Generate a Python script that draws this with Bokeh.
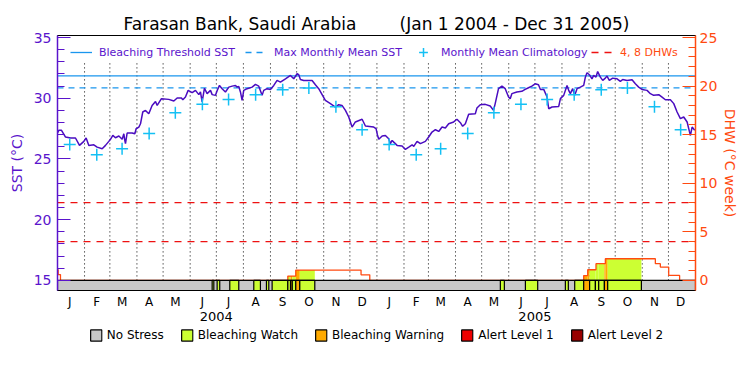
import pandas as pd
from bokeh.plotting import figure
from bokeh.layouts import column
from bokeh.models import Range1d, LinearAxis, FixedTicker, Legend, LegendItem, ColumnDataSource
from bokeh.embed import file_html
from bokeh.resources import INLINE

START = pd.Timestamp("2004-01-01")
END = pd.Timestamp("2006-01-01")

# ---------------- data ----------------
# SST time series (days since 2004-01-01, degC)
sst_day = [0, 1.5, 4.6, 9.2, 15, 20.6, 25.2, 30.2, 32.8, 35.9, 41.6, 45.4, 51.2, 55, 58.8, 60.7, 63.4, 66.4, 70.3, 74.1,
           76, 77.1, 77.9, 79.8, 85.5, 88.6, 90.1, 93.2, 95.1, 97.7, 100.8, 104.6, 108.4, 112.3, 114.2, 119.1, 127.5, 133.3,
           137.1, 142, 143.6, 146.6, 149.7, 154.3, 158.1, 161.9, 163.8, 165.7, 168.4, 171.4, 175.3, 177.2,
           181, 183, 185.6, 188.6, 192.4, 196.3, 200.1, 203.9, 205.8, 207.7, 209.6, 211.5, 213.4, 217.3, 223, 226.8,
           230.6, 234.4, 236.3, 240.1, 244, 247.8, 251.6, 255.4, 261.2, 266.9, 270.7, 274.5, 276.4, 278.3, 282.1, 291.7,
           295.5, 299.3, 306.9, 312.7, 318.4, 322.2, 326, 329.9, 333.7, 337.5, 341.3, 349, 352.8, 362.3,
           365, 366.5, 368.1, 372, 375.7, 379.5, 381.4, 383.4, 385.3, 389.1, 394.8, 398.6, 402.5, 406.3, 408.2, 412,
           415.8, 421.5, 425.3, 429.1, 433, 436.8, 440.6, 444.4, 448.2, 453.9, 457.7, 461.6, 464.2, 467.3, 471.1, 478.7,
           480.6, 484.4, 490.1, 495.8, 499.6, 501.5, 505.3, 509.2, 513, 516.8, 518.7, 520.6, 526.3, 532, 535.8, 539.7,
           543.5, 547.3, 551.1, 553.3,
           557.1, 560.9, 562.8, 566.6, 574.3, 576.2, 580, 583.8, 585.7, 587.6, 590.3, 592.6, 595.3, 599.1, 602.9, 604.8,
           606.7, 609.4, 612.4, 614.3, 617, 618.9, 622, 624.7, 627.7, 629.6, 632.3, 636.1, 641.1, 644.9, 647.6, 652.5,
           658.3, 662.1, 665.9, 669.7, 675.5, 679.3, 683.1, 688.9, 692.7, 696.5, 702.2, 706.1, 709.9, 713.7, 717.5,
           721.4, 724, 725.2, 727.1, 730.1]
sst_val = [27.14, 27.36, 27.36, 26.81, 26.73, 26.73, 26.12, 26.45, 26.73, 26.12, 26.17, 25.98, 25.85, 26.12, 26.45,
           26.62, 26.94, 26.75, 26.89, 26.62, 27.08, 26.53, 26.26, 27.14, 27.14, 27.08, 27.49, 27.63, 27.9, 28.87, 29.0,
           28.73, 29.41, 29.74, 29.41, 29.97, 29.91, 29.77, 30.02, 30.02, 29.88, 30.1, 30.65, 30.46, 30.65, 30.3, 30.52,
           29.7, 30.83, 30.38, 30.65, 30.3,
           30.24, 30.65, 31.06, 30.79, 30.52, 30.92, 31.0, 31.06, 30.92, 30.97, 30.52, 29.83, 30.65, 30.79, 30.92, 31.14,
           31.0, 30.24, 30.65, 30.79, 30.73, 31.06, 31.47, 31.33, 31.6, 31.88, 31.6, 32.02, 31.94, 31.55, 31.47, 31.47,
           31.11, 30.79, 29.83, 29.56, 29.28, 29.47, 29.41, 29.0, 28.46, 27.63, 28.05, 28.27, 27.72, 27.63,
           27.5, 27.0, 26.62, 26.89, 26.94, 26.67, 26.26, 26.53, 26.39, 26.12, 26.07, 25.79, 25.98, 26.17, 26.04, 26.45,
           26.26, 26.45, 26.81, 27.22, 27.41, 27.27, 27.63, 27.55, 27.9, 28.05, 28.27, 27.99, 27.69, 27.9, 28.68, 28.73,
           29.2, 29.47, 29.5, 29.36, 29.0, 29.56, 30.79, 31.0, 30.79, 30.1, 29.97, 30.38, 30.52, 30.57, 30.73, 30.87,
           31.0, 31.19, 31.11, 30.73,
           30.73, 30.1, 29.14, 29.28, 29.33, 29.97, 30.24, 31.06, 30.65, 30.38, 30.79, 30.24, 30.79, 30.92, 31.06, 31.74,
           32.1, 31.94, 31.6, 31.88, 31.74, 32.2, 31.74, 31.47, 31.66, 31.83, 31.47, 31.66, 31.6, 31.39, 31.55, 31.47,
           31.52, 31.19, 30.92, 30.73, 30.65, 30.38, 30.24, 30.3, 30.1, 29.88, 29.88, 29.56, 28.87, 28.32, 28.46, 28.05,
           27.27, 26.94, 27.63, 27.36]

# Monthly mean climatology (Jan..Dec), degC
clim_vals = [26.2, 25.35, 25.85, 27.1, 28.8, 29.5, 29.9, 30.3, 30.7, 30.85, 29.3, 27.4]
mmm = 30.85                 # max monthly mean
threshold = 31.85           # bleaching threshold
dhw_lines = [4, 8]

# Degree heating weeks, step function (days since 2004-01-01)
dhw_day = [0, 0.8, 3.4, 263.9, 273.0, 347.8, 357.8, 602.9, 607.5, 617.0, 627.7, 685.0, 690.7, 700.3, 712.8, 731]
dhw_val = [1.1, 0.6, 0.0, 0.45, 1.07, 0.58, 0.0, 0.5, 1.1, 1.72, 2.23, 1.72, 1.37, 0.51, 0.0, 0.0]

# Stress level periods (1 = Bleaching Watch, 2 = Bleaching Warning)
stress_start = [177.2, 182.9, 197.4, 224.9, 239.4, 245.9, 263.9, 267.0, 269.0, 273.0, 277.6,
                507.4, 536.1, 581.9, 592.6, 602.9, 609.7, 616.3, 620.1, 626.6, 630.4]
stress_end = [179.1, 185.9, 207.7, 232.5, 242.1, 263.9, 267.0, 269.0, 273.0, 277.6, 294.8,
              512.0, 550.2, 585.3, 602.9, 609.7, 616.3, 620.1, 626.6, 630.4, 669.0]
stress_level = [1, 1, 1, 1, 1, 1, 1, 2, 1, 2, 1,
                1, 1, 1, 1, 2, 1, 1, 1, 2, 1]

stress_names = ["No Stress", "Bleaching Watch", "Bleaching Warning", "Alert Level 1", "Alert Level 2"]
stress_colors = ["#c8c8c8", "#ccff33", "#ffaa00", "#ee0000", "#990000"]
month_letters = ["J", "F", "M", "A", "M", "J", "J", "A", "S", "O", "N", "D"]
year_labels = ["2004", "2005"]

# ---------------- derived ----------------
def dayof(ts):
    return (ts - START).days

total_days = dayof(END)
month_starts = [dayof(t) for t in pd.date_range(START, END, freq="MS")]
mid_months = [dayof(t) + 14 for t in pd.date_range(START, END, freq="MS")[:-1]]
clim_days = mid_months
clim_all = clim_vals * 2
year_mid = [dayof(pd.Timestamp(f"{y}-07-01")) for y in year_labels]

Y0, Y1 = 14.17, 35.17
D0, D1 = (Y0 - 15) * 1.25, (Y1 - 15) * 1.25
GRID_TOP = 33.0
NAN = float("nan")

PURPLE = "#5a14cc"
LINEC = "#4a0cc0"
ORANGE = "#ff4a10"
BLUE = "#1a96ee"
CYAN = "#14c0f4"
RED = "#ee1111"
FONT = "DejaVu Sans"
SP = "\u00a0"

main = figure(frame_width=638, frame_height=255, output_backend="svg", toolbar_location=None,
              x_range=Range1d(0, total_days), y_range=Range1d(Y0, Y1),
              min_border_left=57, min_border_right=55, min_border_top=35, min_border_bottom=0)
main.extra_y_ranges = {"dhw": Range1d(D0, D1)}
main.xgrid.visible = False
main.ygrid.visible = False
main.outline_line_color = "black"
main.background_fill_color = "white"

main.title.text = "Farasan Bank, Saudi Arabia" + SP * 8 + "(Jan 1 2004 - Dec 31 2005)"
main.title.align = "center"
main.title.text_font = FONT
main.title.text_font_size = "17px"
main.title.text_font_style = "normal"
main.title.text_color = "black"
main.title.standoff = 4

# month dotted lines
main.segment(x0=month_starts[1:-1], y0=15, x1=month_starts[1:-1], y1=GRID_TOP,
             line_color="black", line_dash="1 3", line_width=1)

# reference lines
thr_r = main.line([0, total_days], [threshold, threshold], line_color=BLUE, line_width=1.3)
mmm_r = main.line([0, total_days], [mmm, mmm], line_color=BLUE, line_width=1.3, line_dash="6 5")
dhw_r = main.multi_line(xs=[[0, total_days] for _ in dhw_lines], ys=[[d, d] for d in dhw_lines],
                        y_range_name="dhw", line_color=RED, line_width=1.3, line_dash="7 6")

# DHW fill by stress level
fl, fr, ft, fc = [], [], [], []
for s, e, lv in zip(stress_start, stress_end, stress_level):
    for i in range(len(dhw_day) - 1):
        if dhw_val[i] <= 0:
            continue
        a, b = max(s, dhw_day[i]), min(e, dhw_day[i + 1])
        if b > a:
            fl.append(a); fr.append(b); ft.append(dhw_val[i]); fc.append(stress_colors[lv])
main.quad(left=fl, right=fr, bottom=0, top=ft, fill_color=fc, line_color=None, y_range_name="dhw")

# DHW step line
main.step(dhw_day, dhw_val, mode="after", line_color=ORANGE, line_width=1.3, y_range_name="dhw")

# stress bar
main.quad(left=[0], right=[total_days], bottom=[Y0], top=[15], fill_color=stress_colors[0],
          line_color="black", line_width=1.2)
src = ColumnDataSource(dict(left=stress_start, right=stress_end,
                            color=[stress_colors[l] for l in stress_level]))
main.quad(left="left", right="right", bottom=Y0, top=15, fill_color="color", line_color="black",
          line_width=1.2, source=src)

# SST and climatology
main.line(sst_day, sst_val, line_color=LINEC, line_width=1.5)
clim_r = main.scatter(clim_days, clim_all, marker="cross", size=12, line_width=1.5, line_color=CYAN)

# axes
ya = main.yaxis[0]
ya.ticker = FixedTicker(ticks=[15, 20, 25, 30, 35], minor_ticks=list(range(15, 36)))
ya.axis_label = "SST (°C)"
ya.axis_line_color = PURPLE
ya.axis_line_width = 1.5
ya.major_tick_line_color = PURPLE
ya.minor_tick_line_color = PURPLE
ya.major_tick_in, ya.major_tick_out = 13, 0
ya.minor_tick_in, ya.minor_tick_out = 7, 0
ya.major_label_text_color = PURPLE
ya.major_label_text_font = FONT
ya.major_label_text_font_size = "14px"
ya.major_label_standoff = 6
ya.axis_label_text_color = PURPLE
ya.axis_label_text_font = FONT
ya.axis_label_text_font_size = "14px"
ya.axis_label_text_font_style = "normal"
ya.axis_label_standoff = 6

ra = LinearAxis(y_range_name="dhw",
                ticker=FixedTicker(ticks=[0, 5, 10, 15, 20, 25], minor_ticks=list(range(0, 26))),
                axis_label="DHW (°C week)")
ra.axis_line_color = ORANGE
ra.axis_line_width = 1.5
ra.major_tick_line_color = ORANGE
ra.minor_tick_line_color = ORANGE
ra.major_tick_in, ra.major_tick_out = 13, 0
ra.minor_tick_in, ra.minor_tick_out = 7, 0
ra.major_label_text_color = ORANGE
ra.major_label_text_font = FONT
ra.major_label_text_font_size = "14px"
ra.major_label_standoff = 4
ra.axis_label_text_color = ORANGE
ra.axis_label_text_font = FONT
ra.axis_label_text_font_size = "14px"
ra.axis_label_text_font_style = "normal"
ra.axis_label_standoff = 2
main.add_layout(ra, "right")

xa = main.xaxis[0]
xa.ticker = FixedTicker(ticks=mid_months, minor_ticks=[])
xa.major_label_overrides = {d: month_letters[i % 12] for i, d in enumerate(mid_months)}
xa.major_tick_line_color = None
xa.major_tick_in, xa.major_tick_out = 0, 0
xa.minor_tick_in, xa.minor_tick_out = 0, 0
xa.axis_line_color = "black"
xa.major_label_text_font = FONT
xa.major_label_text_font_size = "12px"
xa.major_label_text_color = "black"
xa.major_label_standoff = 4

ya2 = LinearAxis(ticker=FixedTicker(ticks=year_mid, minor_ticks=[]))
ya2.major_label_overrides = {d: year_labels[i] for i, d in enumerate(year_mid)}
ya2.axis_line_color = None
ya2.major_tick_line_color = None
ya2.major_tick_in, ya2.major_tick_out = 0, 0
ya2.minor_tick_in, ya2.minor_tick_out = 0, 0
ya2.major_label_text_font = FONT
ya2.major_label_text_font_size = "13px"
ya2.major_label_text_color = "black"
ya2.major_label_standoff = 0
main.add_layout(ya2, "below")

# top legends
common = dict(orientation="horizontal", padding=0, margin=0, border_line_color=None,
              background_fill_alpha=0, label_text_font=FONT, label_text_font_size="11px",
              glyph_height=26, label_height=14, glyph_width=22, label_standoff=7, spacing=10)
leg1 = Legend(items=[LegendItem(label="Bleaching Threshold SST", renderers=[thr_r]),
                     LegendItem(label="Max Monthly Mean SST", renderers=[mmm_r]),
                     LegendItem(label="Monthly Mean Climatology", renderers=[clim_r])],
              location=(13, 225), label_text_color=PURPLE, **common)
leg2 = Legend(items=[LegendItem(label="4, 8 DHWs", renderers=[dhw_r])],
              location=(534, 225), label_text_color=ORANGE, **common)
main.add_layout(leg1)
main.add_layout(leg2)

# bottom stress legend in a strip below the chart
strip = figure(frame_width=638, frame_height=24, output_backend="svg", toolbar_location=None,
               x_range=Range1d(0, 1), y_range=Range1d(0, 1),
               min_border_left=57, min_border_right=55, min_border_top=0, min_border_bottom=0)
strip.axis.visible = False
strip.xgrid.visible = False
strip.ygrid.visible = False
strip.outline_line_color = None
legend_renderers = [strip.quad(left=[NAN], right=[NAN], bottom=[NAN], top=[NAN], fill_color=c,
                               line_color="black", line_width=1.2) for c in stress_colors]
leg3 = Legend(items=[LegendItem(label=n, renderers=[r]) for n, r in zip(stress_names, legend_renderers)],
              orientation="horizontal", location="center", padding=0, margin=0,
              border_line_color=None, background_fill_alpha=0, label_text_font=FONT,
              label_text_font_size="12px", label_text_color="black",
              glyph_height=14, glyph_width=14, label_height=14, label_standoff=4, spacing=16)
strip.add_layout(leg3)

p = column(main, strip, spacing=0)
open("out.html", "w").write(file_html(p, INLINE))
